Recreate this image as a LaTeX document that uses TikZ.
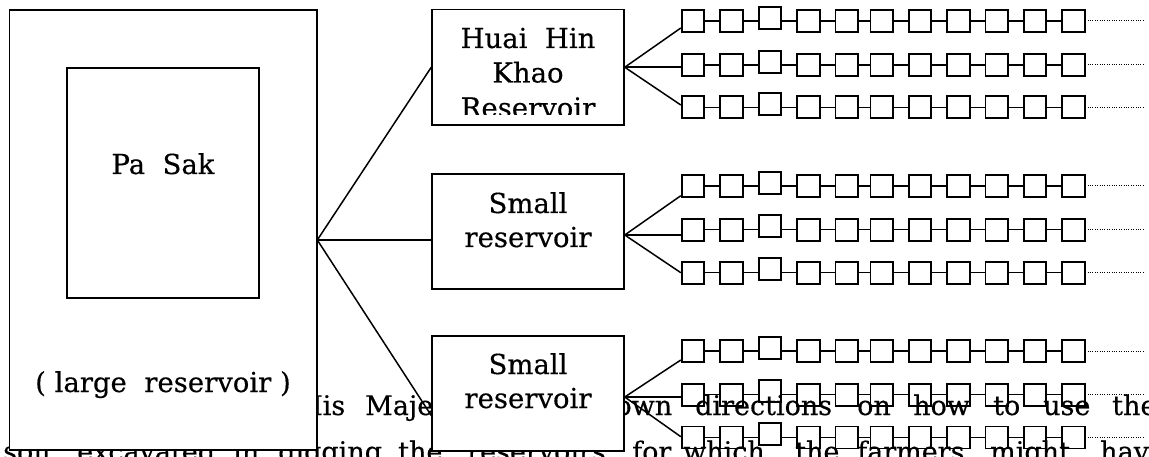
\documentclass[tikz,border=0pt]{standalone}
\usepackage{fontspec}
\setmainfont{DejaVu Serif}[FakeBold=0.4]
\begin{document}
\begin{tikzpicture}[x=1pt,y=-1pt,
  box/.style={draw, line width=1.5pt, fill=white, inner sep=0pt},
  lbl/.style={anchor=base, inner sep=0pt, font=\fontsize{27.5}{27.5}\selectfont},
  word/.style={anchor=base west, inner sep=0pt, font=\fontsize{27}{27}\selectfont},
  sq/.style={draw, line width=1.9pt, inner sep=0pt, minimum width=22.5pt, minimum height=22pt},
  link/.style={line width=1.5pt},
  trail/.style={line width=1pt, dash pattern=on 1pt off 1.4pt}]
\useasboundingbox (0,0) rectangle (1149,457);
\clip (0,0) rectangle (1149,457);
% body text of the page behind the figure
\foreach \w/\x [count=\i] in {His/299, Majesty/365, has/505, shown/584, directions/695, on/857, how/913, to/993, use/1043, the/1112}
  \node[word] (la\i) at (\x,415) {\w};
\foreach \w/\x [count=\i] in {soil/3, excavated/77, in/233, digging/278, the/398, reservoirs/467, for/632, which/683, the/795, farmers/857, might/990, have/1100}
  \node[word] (lb\i) at (\x,461) {\w};
% main boxes
\node[box, minimum width=307.5pt, minimum height=440pt] (outer) at (163.25,230) {};
\node[box, minimum width=192pt, minimum height=230pt] (inner) at (163,183) {};
\node[lbl] (pasak) at (163,174) {Pa\ \ Sak};
\node[lbl] (large) at (163,392) {(\ large\ \ reservoir\ )};
\node[box, minimum width=192pt, minimum height=115.5pt] (huai) at (528,67.25) {};
\node[box, minimum width=192pt, minimum height=115pt] (s1) at (528,231.5) {};
\node[box, minimum width=192pt, minimum height=115pt] (s2) at (528,393.5) {};
\begin{scope}
  \clip (432,9.5) rectangle (624,115);
  \node[lbl] (h1) at (528,48) {Huai\ \ Hin};
  \node[lbl] (h2) at (528,82.5) {Khao};
  \node[lbl] (h3) at (528,117.5) {Reservoir};
\end{scope}
\node[lbl] (s1a) at (528,213) {Small};
\node[lbl] (s1b) at (528,247) {reservoir};
\node[lbl] (s2a) at (528,374) {Small};
\node[lbl] (s2b) at (528,408) {reservoir};
% connectors from the large reservoir
\coordinate (fork) at (317.3,240);
\draw[link] (fork) -- (huai.west);
\draw[link] (fork) -- (fork -| s1.west);
\draw[link] (fork) -- ([yshift=-22pt]s2.west);
% chains of small ponds
\foreach \g/\r/\y in {1/1/21, 1/2/65, 1/3/107.3, 2/1/186, 2/2/229.7, 2/3/272.7, 3/1/351, 3/2/394.7, 3/3/437.5} {
  \coordinate (row-\g-\r) at (0,\y);
  \foreach \x [count=\k] in {693,731.3,770,808.3,846.7,881.7,920,958.3,996.7,1035,1073.3}
    \node[sq] (q-\g-\r-\k) at (\x,{\y-(\k==3)*3.3}) {};
  \foreach \k in {1,...,10} {
    \pgfmathtruncatemacro\n{\k+1}
    \draw[link] (q-\g-\r-\k.east |- row-\g-\r) -- (q-\g-\r-\n.west |- row-\g-\r);
  }
  \coordinate (end-\g-\r) at (1143,\y);
  \draw[trail] ([xshift=2pt]q-\g-\r-11.east |- row-\g-\r) -- (end-\g-\r);
}
% fans from the reservoirs to the chains
\coordinate (gf1) at (huai.east);
\coordinate (gf2) at ([yshift=-3.5pt]s1.east);
\coordinate (gf3) at ([yshift=-3.5pt]s2.east);
\draw[link] (gf1) -- ([yshift=-7pt]q-1-1-1.west);
\draw[link] (gf1) -- (gf1 -| q-1-2-1.west);
\draw[link] (gf1) -- ([yshift=2.3pt]q-1-3-1.west);
\draw[link] (gf2) -- ([yshift=-9.7pt]q-2-1-1.west);
\draw[link] (gf2) -- (gf2 -| q-2-2-1.west);
\draw[link] (gf2) -- (q-2-3-1.west);
\draw[link] (gf3) -- ([yshift=-9pt]q-3-1-1.west);
\draw[link] (gf3) -- (gf3 -| q-3-2-1.west);
\draw[link] (gf3) -- ([yshift=0.8pt]q-3-3-1.west);
\end{tikzpicture}
\end{document}
